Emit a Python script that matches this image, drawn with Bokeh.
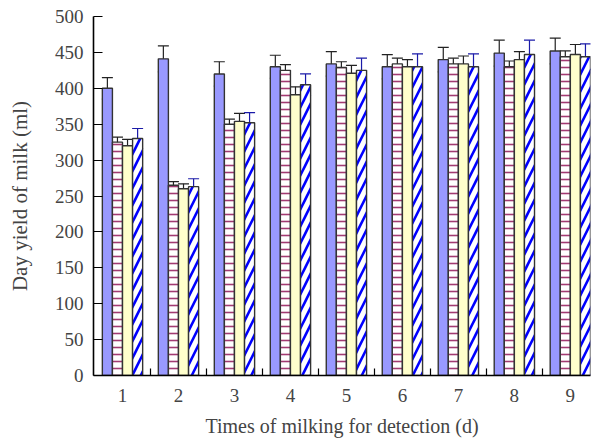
import pandas as pd
from bokeh.plotting import figure
from bokeh.models import ColumnDataSource, Whisker, TeeHead, FixedTicker, Range1d
from bokeh.embed import file_html
from bokeh.resources import INLINE

# ---- data ----
groups = [1, 2, 3, 4, 5, 6, 7, 8, 9]
tick_labels = ["1", "2", "3", "4", "5", "6", "7", "8", "9"]

s1_vals = [400, 441, 420, 430, 434, 430, 440, 449, 452]
s1_err = [15, 18, 17, 16, 17, 17, 17, 18, 18]

s2_vals = [325, 265, 350, 425, 429, 434, 434, 430, 444]
s2_err = [7, 5, 7, 8, 8, 8, 8, 8, 8]

s3_vals = [320, 260, 354, 391, 421, 430, 434, 440, 447]
s3_err = [9, 7, 11, 11, 11, 10, 11, 11, 14]

s4_vals = [330, 263, 352, 405, 425, 430, 430, 447, 444]
s4_err = [14, 11, 14, 15, 17, 18, 18, 20, 18]

series = [
    dict(vals=s1_vals, err=s1_err, off=-0.27, fill="#9999ff", hatch=None,
         hcolor=None, hscale=None, hweight=None, wcolor="#222222"),
    dict(vals=s2_vals, err=s2_err, off=-0.09, fill="#ffffff", hatch="horizontal_line",
         hcolor="#a23a72", hscale=7, hweight=1.6, wcolor="#222222"),
    dict(vals=s3_vals, err=s3_err, off=0.09, fill="#ffffcc", hatch=None,
         hcolor=None, hscale=None, hweight=None, wcolor="#222222"),
    dict(vals=s4_vals, err=s4_err, off=0.27, fill="#ffffff", hatch="right_diagonal_line",
         hcolor="#0000ff", hscale=17, hweight=2.6, wcolor="#1a1aa8"),
]

bar_w = 0.18

p = figure(width=598, height=443, output_backend="svg", toolbar_location=None,
           x_range=Range1d(0.482, 9.36), y_range=Range1d(0, 500),
           min_border_left=93, min_border_right=8, min_border_top=16, min_border_bottom=68)
p.outline_line_color = None
p.grid.grid_line_color = None

for s in series:
    df = pd.DataFrame(dict(g=groups, v=s["vals"], e=s["err"]))
    df["x"] = df["g"] + s["off"]
    df["lo"] = df["v"] - df["e"]
    df["hi"] = df["v"] + df["e"]
    src = ColumnDataSource(df)
    kw = dict(x="x", top="v", width=bar_w, bottom=0, source=src,
              fill_color=s["fill"], line_color="#333333", line_width=1.4)
    if s["hatch"]:
        kw.update(hatch_pattern=s["hatch"], hatch_color=s["hcolor"],
                  hatch_scale=s["hscale"], hatch_weight=s["hweight"])
    p.vbar(**kw)
    w = Whisker(base="x", upper="hi", lower="lo", source=src,
                line_color=s["wcolor"], line_width=1.2,
                upper_head=TeeHead(size=11, line_color=s["wcolor"], line_width=1.2),
                lower_head=TeeHead(size=11, line_color=s["wcolor"], line_width=1.2))
    p.add_layout(w)

font = "Liberation Serif"

# x axis
p.xaxis.ticker = FixedTicker(ticks=groups, minor_ticks=[1.5, 2.5, 3.5, 4.5, 5.5, 6.5, 7.5, 8.5])
p.xaxis.major_label_overrides = {g: t for g, t in zip(groups, tick_labels)}
p.xaxis.major_tick_in = 0
p.xaxis.major_tick_out = 0
p.xaxis.minor_tick_in = 7
p.xaxis.minor_tick_out = 0
p.xaxis.minor_tick_line_color = "black"
p.xaxis.minor_tick_line_width = 1.2
p.xaxis.axis_label = "Times of milking for detection (d)"
p.xaxis.axis_label_text_font = font
p.xaxis.axis_label_text_font_style = "normal"
p.xaxis.axis_label_text_font_size = "20px"
p.xaxis.axis_label_standoff = 10
p.xaxis.major_label_text_font = font
p.xaxis.major_label_text_font_size = "19px"
p.xaxis.major_label_standoff = 13
p.xaxis.axis_line_width = 1.6
p.xaxis.axis_line_color = "black"

# y axis
p.yaxis.ticker = FixedTicker(ticks=list(range(0, 501, 50)))
p.yaxis.major_tick_in = 9
p.yaxis.major_tick_out = 0
p.yaxis.minor_tick_line_color = None
p.yaxis.major_tick_line_width = 1.2
p.yaxis.axis_label = "Day yield of milk (ml)"
p.yaxis.axis_label_text_font = font
p.yaxis.axis_label_text_font_style = "normal"
p.yaxis.axis_label_text_font_size = "21px"
p.yaxis.axis_label_standoff = 20
p.yaxis.major_label_text_font = font
p.yaxis.major_label_text_font_size = "19px"
p.yaxis.major_label_standoff = 10
p.yaxis.axis_line_width = 1.6
p.yaxis.axis_line_color = "black"

open("out.html", "w").write(file_html(p, INLINE))
